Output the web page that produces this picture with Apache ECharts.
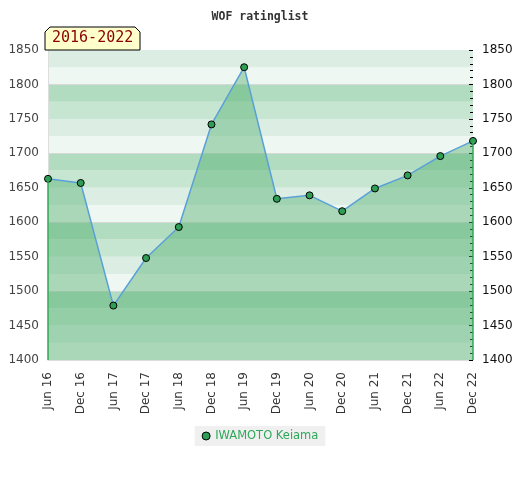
<!DOCTYPE html>
<html>
<head>
<meta charset="utf-8">
<script src="https://cdn.jsdelivr.net/npm/echarts@6/dist/echarts.min.js"></script>
<style>
html, body { margin: 0; padding: 0; background: #fff; }
#chart { width: 520px; height: 480px; }
</style>
</head>
<body>
<div id="chart"></div>
<script>
var playerName = 'IWAMOTO Keiama';
var periodLabel = '2016-2022';
var months = ['Jun 16', 'Dec 16', 'Jun 17', 'Dec 17', 'Jun 18', 'Dec 18', 'Jun 19',
	'Dec 19', 'Jun 20', 'Dec 20', 'Jun 21', 'Dec 21', 'Jun 22', 'Dec 22'];
var ratings = [1663, 1657, 1479, 1548, 1593, 1742, 1825, 1634, 1639, 1616, 1649, 1668, 1696, 1718];
var yMin = 1400;
var yMax = 1850;

var bandColors = ['#eef7f1', '#dceee3', '#c7e6d1', '#b2dcc0'];	//每100分四条色带
var gridLineColors = ['#d8d8d8', 'rgba(0,0,0,0)', 'rgba(0,0,0,0)', 'rgba(0,0,0,0)'];

var myChart = echarts.init(document.getElementById('chart'));
var last = months.length - 1;
var option = {
	animation: false,
	title: {
		text: 'WOF ratinglist',
		left: 'center',
		top: 6,
		textStyle: { fontFamily: 'DejaVu Sans Mono', fontSize: 11.5, fontWeight: 'bold', color: '#333' }
	},
	grid: { left: 48, right: 47, top: 50, bottom: 120 },
	legend: {
		bottom: 34,
		left: 'center',
		backgroundColor: '#f0f0f0',
		padding: [4, 7, 4, 7],
		itemWidth: 8,
		itemHeight: 8,
		itemGap: 6,
		textStyle: { color: '#2ea85a', fontFamily: 'DejaVu Sans', fontSize: 11.5 },
		data: [{ name: playerName, icon: 'circle', itemStyle: { color: '#2f9e55', borderColor: '#000', borderWidth: 1 } }]
	},
	xAxis: {
		type: 'category',
		boundaryGap: false,
		data: months,
		axisLine: { lineStyle: { color: '#ddd' } },
		axisTick: { show: false },
		axisLabel: { rotate: 90, color: '#333', fontFamily: 'DejaVu Sans', fontSize: 12, margin: 12 }
	},
	yAxis: [
		{
			type: 'value',
			min: yMin,
			max: yMax,
			interval: 25,
			axisLine: { show: true, lineStyle: { color: '#ddd' } },
			axisTick: { show: false },
			axisLabel: {
				color: '#444', fontFamily: 'DejaVu Sans', fontSize: 12, margin: 9,
				formatter: function (v) { return v % 50 === 0 ? String(v) : ''; }
			},
			splitLine: { show: true, lineStyle: { color: gridLineColors } },
			splitArea: { show: true, areaStyle: { color: bandColors } }
		},
		{
			type: 'value',
			min: yMin,
			max: yMax,
			interval: 50,
			position: 'right',
			axisLine: { show: false },
			axisTick: { show: true, inside: true, length: 4, lineStyle: { color: '#000' } },
			minorTick: { show: true, splitNumber: 5, length: 3, lineStyle: { color: '#000' } },
			axisLabel: {
				color: '#111', fontFamily: 'DejaVu Sans', fontSize: 12, margin: 9,
				formatter: function (v) { return String(v); }
			},
			splitLine: { show: false }
		}
	],
	series: [
		{
			name: playerName,
			type: 'line',
			data: ratings,
			symbol: 'circle',
			symbolSize: 7,
			itemStyle: { color: '#2f9e55', borderColor: '#000', borderWidth: 1 },
			lineStyle: { color: '#5aa0d8', width: 1.5 },
			areaStyle: { color: 'rgba(80,175,110,0.62)', origin: 'start' },
			markLine: {
				silent: true,
				symbol: 'none',
				label: { show: false },
				lineStyle: { color: '#2eaa55', width: 1.5, type: 'solid' },
				data: [
					[{ coord: [months[0], ratings[0]] }, { coord: [months[0], yMin] }],
					[{ coord: [months[last], ratings[last]] }, { coord: [months[last], yMin] }]
				]
			},
			z: 3
		}
	],
	graphic: [
		{
			type: 'polygon',
			shape: { points: [[45, 50], [45, 32], [50, 27], [135, 27], [140, 32], [140, 50]] },
			style: { fill: '#ffffcc', stroke: '#000', lineWidth: 1 },
			z: 10
		},
		{
			type: 'text',
			left: 52,
			top: 31,
			style: { text: periodLabel, fill: '#8b0000', font: '15px "DejaVu Sans Mono"' },
			z: 11
		}
	]
};
myChart.setOption(option);
</script>
</body>
</html>
